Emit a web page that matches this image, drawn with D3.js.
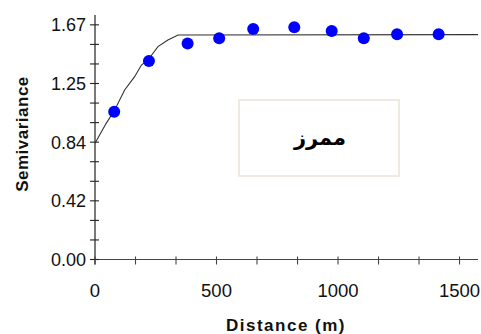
<!DOCTYPE html>
<html><head><meta charset="utf-8">
<script src="https://cdn.jsdelivr.net/npm/d3@7/dist/d3.min.js"></script>
<style>body{margin:0;background:#fff}svg{display:block}</style>
</head><body>
<svg id="c" width="481" height="334"></svg>
<script>
// Experimental semivariogram points
const lagDistance = [79, 222, 381, 511, 651, 820, 974, 1106, 1243, 1414];
const semivariance = [1.052, 1.413, 1.538, 1.574, 1.641, 1.653, 1.626, 1.574, 1.603, 1.603];
// Fitted model curve
const modelDistance = [0, 19, 46, 81, 122, 163, 191, 218, 259, 300, 342, 1576];
const modelValue = [0.827, 0.886, 0.969, 1.064, 1.206, 1.301, 1.384, 1.420, 1.515, 1.562, 1.598, 1.600];
// Axis ticks
const yTickValues = [0, 0.4175, 0.835, 1.2525, 1.67];
const yTickLabels = ["0.00", "0.42", "0.84", "1.25", "1.67"];
const xTickValues = [0, 500, 1000, 1500];
const xTickLabels = ["0", "500", "1000", "1500"];
const boxLabel = "ممرز";

const svg = d3.select("#c");
const x = d3.scaleLinear().domain([0, 1576]).range([95, 478]);
const y = d3.scaleLinear().domain([0, 1.74]).range([259.5, 15]);

const axisColor = "#222";
const font = "'Liberation Sans', Arial, sans-serif";

// Y axis line
svg.append("line").attr("x1", x(0)).attr("x2", x(0)).attr("y1", y(1.74)).attr("y2", y(0) + 5)
  .attr("stroke", axisColor).attr("stroke-width", 1.2);
// X axis line
svg.append("line").attr("x1", x(0)).attr("x2", x(1576)).attr("y1", y(0)).attr("y2", y(0))
  .attr("stroke", "#444").attr("stroke-width", 1.2);

// Y ticks (minor + major, crossing)
const yMinor = d3.range(0, 13).map(i => i * 1.67 / 12);
svg.selectAll(".yt").data(yMinor).join("line")
  .attr("x1", x(0) - 5).attr("x2", x(0) + 4)
  .attr("y1", d => y(d)).attr("y2", d => y(d))
  .attr("stroke", axisColor).attr("stroke-width", 1.1);
svg.selectAll(".yl").data(yTickValues).join("text")
  .attr("x", 86).attr("y", d => y(d)).attr("dy", "0.36em")
  .attr("text-anchor", "end").attr("font-family", font).attr("font-size", 18)
  .attr("fill", "#111")
  .text((d, i) => yTickLabels[i]);

// X ticks
const xMinor = d3.range(0, 10).map(i => i * 500 / 3);
svg.selectAll(".xt").data(xMinor).join("line")
  .attr("x1", d => x(d)).attr("x2", d => x(d))
  .attr("y1", y(0) - 3).attr("y2", y(0) + 5)
  .attr("stroke", "#444").attr("stroke-width", 1.1);
svg.selectAll(".xl").data(xTickValues).join("text")
  .attr("x", d => x(d)).attr("y", 297)
  .attr("text-anchor", "middle").attr("font-family", font).attr("font-size", 18.5)
  .attr("fill", "#111")
  .text((d, i) => xTickLabels[i]);

// Axis titles
svg.append("text").attr("x", 286).attr("y", 331).attr("text-anchor", "middle")
  .attr("font-family", font).attr("font-weight", "bold").attr("font-size", 17)
  .attr("letter-spacing", "1.5px").attr("fill", "#111").text("Distance (m)");
svg.append("text").attr("transform", "translate(28,134) rotate(-90)").attr("text-anchor", "middle")
  .attr("font-family", font).attr("font-weight", "bold").attr("font-size", 17)
  .attr("letter-spacing", "0.5px").attr("fill", "#111").text("Semivariance");

// Model curve
const line = d3.line().x(d => x(d[0])).y(d => y(d[1]));
svg.append("path").datum(modelDistance.map((d, i) => [d, modelValue[i]]))
  .attr("d", line).attr("fill", "none").attr("stroke", "#333").attr("stroke-width", 1.1);

// Points
svg.selectAll(".pt").data(lagDistance).join("circle")
  .attr("cx", d => x(d)).attr("cy", (d, i) => y(semivariance[i])).attr("r", 6)
  .attr("fill", "#0000ff");

// Label box
svg.append("rect").attr("x", 239).attr("y", 100).attr("width", 160).attr("height", 76)
  .attr("fill", "#fff").attr("stroke", "#efeadf").attr("stroke-width", 2);
svg.append("text").attr("x", 320).attr("y", 145).attr("text-anchor", "middle")
  .attr("font-family", "'DejaVu Sans', sans-serif").attr("font-weight", "bold").attr("font-size", 21)
  .attr("direction", "rtl").attr("fill", "#000").text(boxLabel);
</script>
</body></html>
